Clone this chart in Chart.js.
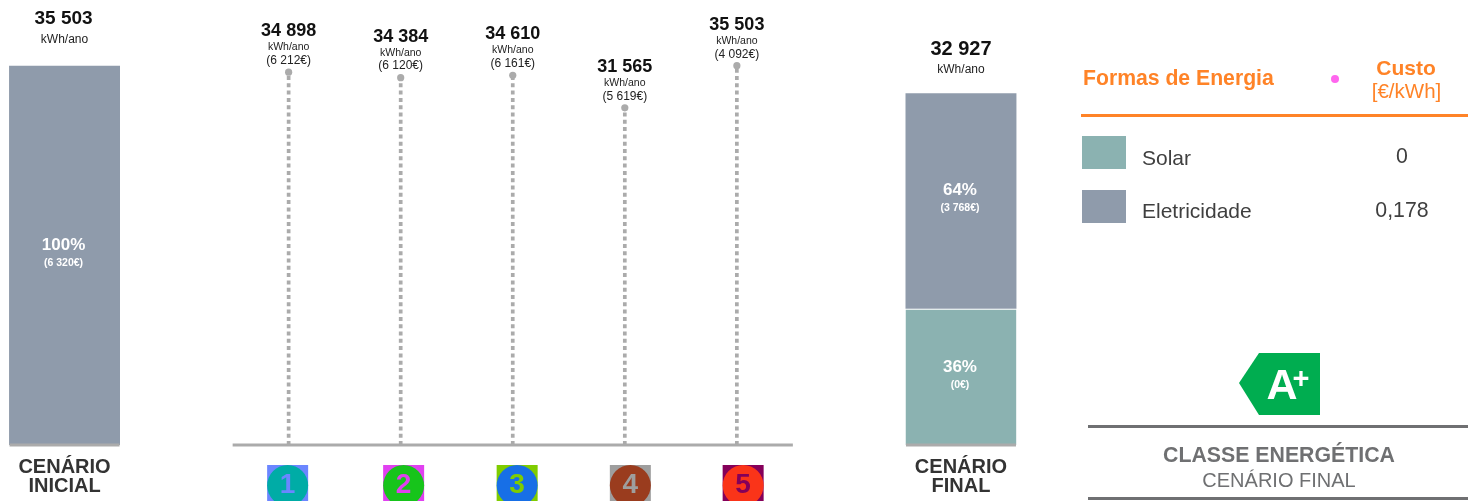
<!DOCTYPE html>
<html lang="pt">
<head>
<meta charset="utf-8">
<title>Cenários de energia</title>
<script src="https://cdn.jsdelivr.net/npm/chart.js@4"></script>
<style>
    html, body { margin: 0; padding: 0; background: #fff; overflow: hidden; }
    body { position: relative; width: 1468px; height: 501px; font-family: 'Liberation Sans', Arial, sans-serif; }
    #chart { position: absolute; left: 0; top: 0; }
    .t { position: absolute; white-space: nowrap; transform: translate(-50%, -50%); line-height: 1; }
    .l { transform: translate(0, -50%); }
    .box { position: absolute; }
</style>
</head>
<body>
<canvas id="chart" width="1468" height="501"></canvas>

<div class="t l" style="left:1083px;top:77.5px;font-size:21.2px;font-weight:bold;color:#FF8327">Formas de Energia</div>
<div class="box" style="left:1331px;top:75px;width:8px;height:8px;border-radius:50%;background:#FF66EE"></div>
<div class="t" style="left:1406px;top:67px;font-size:21px;font-weight:bold;color:#FF8327">Custo</div>
<div class="t" style="left:1406.5px;top:91px;font-size:20.5px;color:#FF8327">[€/kWh]</div>
<div class="box" style="left:1081px;top:114px;width:387px;height:3px;background:#FF8327"></div>
<div id="energyTable"></div>

<svg class="box" style="left:1239px;top:353px" width="81" height="62" viewBox="0 0 81 62">
    <polygon points="0,30 20,0 81,0 81,62 20,62" fill="#00AD50"/>
    <text x="43" y="46" text-anchor="middle" font-family="Liberation Sans" font-weight="bold" font-size="43" fill="#fff">A</text>
    <text x="62" y="35" text-anchor="middle" font-family="Liberation Sans" font-weight="bold" font-size="29" fill="#fff">+</text>
</svg>
<div class="box" style="left:1088px;top:425px;width:380px;height:3px;background:#6F7072"></div>
<div class="t" style="left:1279px;top:456px;font-size:21.3px;font-weight:bold;color:#6F7072">CLASSE ENERGÉTICA</div>
<div class="t" style="left:1279px;top:480px;font-size:20px;color:#6F7072">CENÁRIO FINAL</div>
<div class="box" style="left:1088px;top:497px;width:380px;height:3px;background:#6F7072"></div>

<script>
// Dados
const categories = ['CENÁRIO\nINICIAL', ' ', '1', '2', '3', '4', '5', '  ', 'CENÁRIO\nFINAL'];
const eletricidade = [35503, null, null, null, null, null, null, null, 20177];
const solar = [null, null, null, null, null, null, null, null, 12750];

const measureNames = ['1', '2', '3', '4', '5'];
const measureValues = [34898, 34384, 34610, 31565, 35503];
const measureCosts = ['(6 212€)', '(6 120€)', '(6 161€)', '(5 619€)', '(4 092€)'];

const initialTotal = 35503;
const finalTotal = 32927;

const energyForms = ['Solar', 'Eletricidade'];
const energyCosts = ['0', '0,178'];

const COLOR_GREY = '#8F9BAB';
const COLOR_TEAL = '#8BB2B1';
const COLOR_LINE = '#ABABAB';
const FONT = "'Liberation Sans', Arial, sans-serif";

const badgeColors = [
    { square: '#6B86FF', circle: '#00ACA6' },
    { square: '#E040F0', circle: '#17C41B' },
    { square: '#7FCC00', circle: '#176FE6' },
    { square: '#9E9E9E', circle: '#9A3C1E' },
    { square: '#85005A', circle: '#FA3419' },
];

const formatKwh = (v) => String(v).replace(/\B(?=(\d{3})+$)/g, ' ');

// Tabela de formas de energia (HTML)
const swatches = [COLOR_TEAL, COLOR_GREY];
const rowTops = [136, 190];
document.getElementById('energyTable').innerHTML = energyForms.map((name, i) => `
    <div class="box" style="left:1082px;top:${rowTops[i]}px;width:44px;height:33px;background:${swatches[i]}"></div>
    <div class="t l" style="left:1142px;top:${rowTops[i] + 21 - i}px;font-size:21px;color:#3F3F3F">${name}</div>
    <div class="t" style="left:1402px;top:${rowTops[i] + 21}px;font-size:21.3px;color:#3F3F3F">${energyCosts[i]}</div>
`).join('');

function drawText(ctx, text, x, y, font, color) {
    ctx.font = font + ' ' + FONT;
    ctx.fillStyle = color;
    ctx.fillText(text, x, y);
}

// Linha de base, etiquetas e emblemas numerados
const annotations = {
    id: 'annotations',
    afterDatasetsDraw(chart) {
        const { ctx, scales: { x, y } } = chart;
        const base = y.getPixelForValue(0);
        const half = 56;

        ctx.save();
        ctx.textAlign = 'center';
        ctx.textBaseline = 'middle';

        // base
        ctx.fillStyle = COLOR_LINE;
        ctx.fillRect(x.getPixelForValue(2) - half, base - 1.5, 2 * half + x.getPixelForValue(6) - x.getPixelForValue(2), 3);
        ctx.fillRect(x.getPixelForValue(0) - half + 1, base - 1.5, 2 * half - 2, 3);
        ctx.fillRect(x.getPixelForValue(8) - half + 1, base - 1.5, 2 * half - 2, 3);

        // cenário inicial
        const x0 = x.getPixelForValue(0);
        const top0 = y.getPixelForValue(initialTotal);
        drawText(ctx, formatKwh(initialTotal), x0 - 1, top0 - 47, 'bold 19px', '#111');
        drawText(ctx, 'kWh/ano', x0, top0 - 26, '12px', '#222');
        const mid0 = (top0 + base) / 2;
        drawText(ctx, '100%', x0 - 1, mid0 - 10, 'bold 17px', '#fff');
        drawText(ctx, '(6 320€)', x0 - 1, mid0 + 8, 'bold 10.5px', '#fff');

        // medidas
        measureValues.forEach((value, i) => {
            const px = x.getPixelForValue(i + 2);
            const top = y.getPixelForValue(value);
            drawText(ctx, formatKwh(value), px, top - 41, 'bold 18px', '#111');
            drawText(ctx, 'kWh/ano', px, top - 25, '10.5px', '#222');
            drawText(ctx, measureCosts[i], px, top - 11.5, '12px', '#222');
        });

        // cenário final
        const x8 = x.getPixelForValue(8);
        const top8 = y.getPixelForValue(finalTotal);
        const split = y.getPixelForValue(solar[8]);
        drawText(ctx, formatKwh(finalTotal), x8, top8 - 43.5, 'bold 20px', '#111');
        drawText(ctx, 'kWh/ano', x8, top8 - 24, '12px', '#222');
        const midE = (top8 + split) / 2;
        drawText(ctx, '64%', x8 - 1, midE - 11, 'bold 17px', '#fff');
        drawText(ctx, '(3 768€)', x8 - 1, midE + 7, 'bold 10.5px', '#fff');
        const midS = (split + base) / 2;
        drawText(ctx, '36%', x8 - 1, midS - 10, 'bold 17px', '#fff');
        drawText(ctx, '(0€)', x8 - 1, midS + 8, 'bold 10.5px', '#fff');

        // emblemas
        const badgeLeft = x.getPixelForValue(2) - 21.5;
        const badgeOffsets = [0, 116, 229.5, 342.7, 455.5];
        const size = 41;
        badgeColors.forEach((c, i) => {
            const left = badgeLeft + badgeOffsets[i];
            ctx.fillStyle = c.square;
            ctx.fillRect(left, 465, size, 36);
            ctx.fillStyle = c.circle;
            ctx.beginPath();
            ctx.arc(left + size / 2, 485.5, size / 2, 0, Math.PI * 2);
            ctx.fill();
            drawText(ctx, measureNames[i], left + size / 2, 485.5, 'bold 28px', c.square);
        });
        ctx.restore();
    },
};

const measureDatasets = measureValues.map((value, i) => ({
    type: 'line',
    stack: 'm' + i,
    data: [{ x: measureNames[i], y: 0 }, { x: measureNames[i], y: value }],
    borderColor: COLOR_LINE,
    backgroundColor: COLOR_LINE,
    borderWidth: 3.7,
    borderDash: [4, 3.3],
    pointRadius: [0, 3.6],
    pointBorderWidth: 0,
}));

new Chart(document.getElementById('chart'), {
    type: 'bar',
    data: {
        labels: categories,
        datasets: [
            {
                label: 'Solar',
                data: solar,
                stack: 'energia',
                backgroundColor: COLOR_TEAL,
                borderColor: '#fff',
                borderWidth: { top: 1 },
                borderSkipped: false,
            },
            {
                label: 'Eletricidade',
                data: eletricidade,
                stack: 'energia',
                backgroundColor: COLOR_GREY,
            },
            ...measureDatasets,
        ],
    },
    options: {
        responsive: false,
        animation: false,
        barPercentage: 0.99,
        categoryPercentage: 1,
        layout: { padding: { left: 8.5, right: 451, top: 7, bottom: 0 } },
        plugins: { legend: { display: false }, tooltip: { enabled: false } },
        scales: {
            x: {
                stacked: true,
                grid: { display: false },
                border: { display: false },
                afterFit: (scale) => { scale.height = 56; },
                ticks: {
                    autoSkip: false,
                    maxRotation: 0,
                    minRotation: 0,
                    padding: 5,
                    color: '#333',
                    font: { family: FONT, size: 20, weight: 'bold', lineHeight: 0.95 },
                    // os números 1 a 5 vão nos emblemas
                    callback(value, index) {
                        const label = this.getLabelForValue(value);
                        return label.includes('\n') ? label.split('\n') : '';
                    },
                },
            },
            y: {
                display: false,
                stacked: true,
                min: 0,
                max: 41000,
            },
        },
    },
    plugins: [annotations],
});
</script>
</body>
</html>
